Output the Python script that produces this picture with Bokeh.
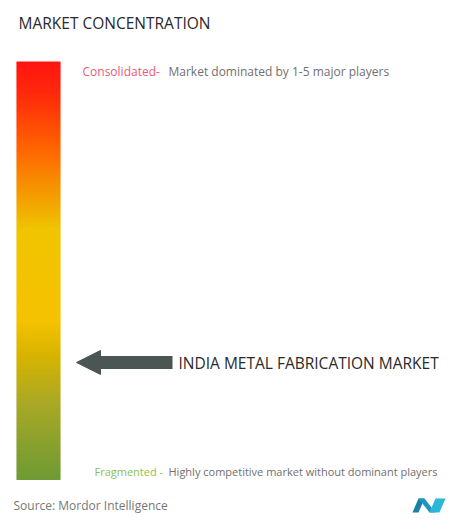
from bokeh.plotting import figure
from bokeh.models import Range1d, Arrow, NormalHead
from bokeh.core.properties import value
from bokeh.embed import file_html
from bokeh.resources import INLINE

# ---- data ----
title_text = "MARKET CONCENTRATION"
market_name = "INDIA METAL FABRICATION MARKET"
market_level = 0.28          # position on concentration scale (0 = fragmented, 1 = consolidated)
top_label = ["Consolidated-", "Market dominated by 1-5 major players"]
bottom_label = ["Fragmented -", "Highly competitive market without dominant players"]
source_text = "Source: Mordor Intelligence"
grad_stops = [0.0, 0.08, 0.22, 0.30, 0.40, 0.62, 0.70, 0.82, 1.0]
grad_colors = ["#ff1410", "#ff2a0a", "#ff6a00", "#f59200", "#f0c400", "#f5c200",
               "#d8b400", "#a8a826", "#6e9a34"]

W, H = 456, 513
FONT = value("Open Sans")

p = figure(width=W, height=H, output_backend="svg", toolbar_location=None,
           x_range=Range1d(0, W), y_range=Range1d(H, 0),
           min_border=0, outline_line_color=None)
p.axis.visible = False
p.grid.visible = False
p.background_fill_color = "white"

# gradient bar
bar_left, bar_right, bar_top, bar_bottom = 16, 60, 61, 479

def hex2rgb(h):
    return tuple(int(h[i:i + 2], 16) for i in (1, 3, 5))

def interp(f):
    for i in range(len(grad_stops) - 1):
        a, b = grad_stops[i], grad_stops[i + 1]
        if a <= f <= b:
            t = (f - a) / (b - a) if b > a else 0
            c1, c2 = hex2rgb(grad_colors[i]), hex2rgb(grad_colors[i + 1])
            return "#%02x%02x%02x" % tuple(round(c1[k] + (c2[k] - c1[k]) * t) for k in range(3))
    return grad_colors[-1]

n = 209
step = (bar_bottom - bar_top) / n
tops = [bar_top + i * step for i in range(n)]
bottoms = [t + step + 0.6 for t in tops]
cols = [interp((i + 0.5) / n) for i in range(n)]
p.quad(left=bar_left, right=bar_right, top=tops, bottom=bottoms,
       fill_color=cols, line_color=None)

# title
p.text(x=[18], y=[22], text=[title_text], text_font=FONT, text_font_size="15.5px",
       text_color="#2a2a2a", text_baseline="middle", text_align="left")

# top / bottom labels
p.text(x=[82], y=[71], text=[top_label[0]], text_font=FONT, text_font_size="12px",
       text_color="#ec5a78", text_baseline="middle")
p.text(x=[168], y=[71], text=[top_label[1]], text_font=FONT, text_font_size="12px",
       text_color="#707070", text_baseline="middle")
p.text(x=[94], y=[471], text=[bottom_label[0]], text_font=FONT, text_font_size="11px",
       text_color="#8cc152", text_baseline="middle")
p.text(x=[168], y=[471], text=[bottom_label[1]], text_font=FONT, text_font_size="11px",
       text_color="#707070", text_baseline="middle")

# arrow for market position
arrow_y = bar_bottom - market_level * (bar_bottom - bar_top)
p.add_layout(Arrow(end=NormalHead(size=24, fill_color="#4b5553", line_color="#4b5553"),
                   x_start=172, y_start=arrow_y, x_end=76, y_end=arrow_y,
                   line_width=13, line_color="#4b5553"))
p.text(x=[178], y=[arrow_y + 1], text=[market_name], text_font=FONT, text_font_size="15.5px",
       text_color="#2a2a2a", text_baseline="middle")

# source
p.text(x=[13], y=[505], text=[source_text], text_font=FONT, text_font_size="12px",
       text_color="#777777", text_baseline="middle")

# logo (stylized M)
p.patches(xs=[[412, 418, 424, 418], [418, 424, 435, 429], [429, 435, 445, 439]],
          ys=[[512, 498, 498, 512], [498, 498, 512, 512], [512, 498, 498, 512]],
          fill_color=["#1b7fa8", "#1f95bf", "#2ab8d8"], line_color=None)

open("out.html", "w").write(file_html(p, INLINE))
